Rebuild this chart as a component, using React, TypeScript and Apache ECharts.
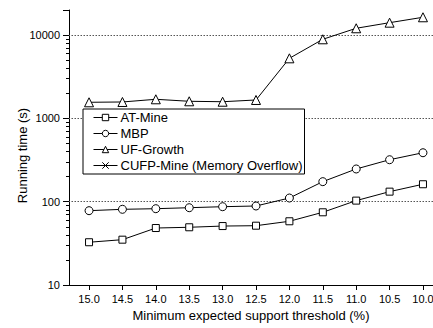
import React, { useEffect, useRef } from "react";
import * as echarts from "echarts";

const thresholds = [15.0, 14.5, 14.0, 13.5, 13.0, 12.5, 12.0, 11.5, 11.0, 10.5, 10.0];
const atMine = [32.6, 35, 48.3, 49.3, 51, 51.5, 58.2, 74.6, 103, 132, 162];
const mbp = [78, 81, 82.4, 84.7, 87.1, 88.8, 110.7, 174, 247, 319, 387];
const ufGrowth = [1560, 1574, 1695, 1604, 1585, 1663, 5260, 8900, 12070, 14090, 16360];
const cufpMine: number[] = [];
const yMajorTicks = [10, 100, 1000, 10000, 20000];
const yLabels = [10, 100, 1000, 10000];
const yMinorTicks = [20, 30, 40, 50, 60, 70, 80, 90, 200, 300, 400, 500, 600, 700, 800, 900, 2000, 3000, 4000, 5000, 6000, 7000, 8000, 9000];
const gridValues = [100, 1000, 10000];

const FONT = "Liberation Sans, Arial, sans-serif";

export default function App() {
  const ref = useRef<HTMLDivElement>(null);
  useEffect(() => {
    if (!ref.current) return;
    const chart = echarts.init(ref.current, null, { renderer: "svg", width: 433, height: 328 });
    const pairs = (vals: number[]) => vals.map((v, i) => [thresholds[i], v]);
    const common = {
      type: "line",
      symbolSize: 8,
      lineStyle: { color: "#000", width: 1 },
      itemStyle: { color: "#fff", borderColor: "#000", borderWidth: 1 },
      emphasis: { disabled: true },
    };
    chart.setOption({
      animation: false,
      textStyle: { fontFamily: FONT },
      grid: { left: 69, right: 0, top: 10, bottom: 43, containLabel: false, outerBoundsMode: "none" },
      legend: {
        orient: "vertical",
        left: 83,
        top: 109,
        itemWidth: 24,
        itemHeight: 8,
        itemGap: 3,
        padding: [2, 2, 2, 10],
        borderColor: "#000",
        borderWidth: 1,
        backgroundColor: "#fff",
        itemStyle: { color: "#fff", borderColor: "#000", borderWidth: 1 },
        lineStyle: { color: "#000", width: 1 },
        textStyle: { fontFamily: FONT, fontSize: 13, color: "#000", padding: [0, 0, 0, -2] },
        data: ["AT-Mine", "MBP", "UF-Growth", "CUFP-Mine (Memory Overflow)"],
      },
      xAxis: {
        type: "value",
        inverse: true,
        min: 9.85,
        max: 15.3,
        name: "Minimum expected support threshold (%)",
        nameLocation: "middle",
        nameGap: 21,
        nameTextStyle: { fontFamily: FONT, fontSize: 13, color: "#000" },
        axisLine: { show: true, lineStyle: { color: "#000", width: 1 } },
        axisTick: { show: true, inside: false, length: 5, lineStyle: { color: "#000" }, customValues: thresholds },
        axisLabel: {
          fontFamily: FONT,
          fontSize: 11,
          color: "#000",
          margin: 8,
          hideOverlap: false,
          showMinLabel: true,
          showMaxLabel: true,
          customValues: thresholds,
          formatter: (v: number) => v.toFixed(1),
        },
        splitLine: { show: false },
      },
      yAxis: [
        {
          type: "log",
          logBase: 10,
          min: 10,
          max: 20000,
          axisLine: { show: true, lineStyle: { color: "#000", width: 1 } },
          axisTick: { show: true, inside: false, length: 6, lineStyle: { color: "#000" }, customValues: yMajorTicks },
          axisLabel: {
            fontFamily: FONT,
            fontSize: 11,
            color: "#000",
            margin: 9,
            customValues: yLabels,
            formatter: (v: number) => String(Math.round(v)),
          },
          splitLine: { show: false },
          minorTick: { show: false },
        },
        {
          type: "log",
          logBase: 10,
          min: 10,
          max: 20000,
          position: "left",
          axisLine: { show: false },
          axisTick: { show: true, inside: false, length: 3, lineStyle: { color: "#000" }, customValues: yMinorTicks },
          axisLabel: { show: false },
          splitLine: { show: false },
        },
      ],
      graphic: [
        {
          type: "text",
          x: 22,
          y: 155.5,
          rotation: Math.PI / 2,
          style: {
            text: "Running time (s)",
            fontFamily: FONT,
            fontSize: 13,
            fill: "#000",
            textAlign: "center",
            textVerticalAlign: "middle",
          },
        },
      ],
      series: [
        {
          ...common,
          name: "AT-Mine",
          symbol: "rect",
          symbolSize: 7,
          data: pairs(atMine),
          z: 3,
          markLine: {
            silent: true,
            symbol: "none",
            label: { show: false },
            lineStyle: { color: "#555", type: [1.5, 1.5], width: 1 },
            data: gridValues.map((v) => ({ yAxis: v })),
            z: 1,
          },
        },
        { ...common, name: "MBP", symbol: "circle", symbolSize: 8, data: pairs(mbp), z: 3 },
        { ...common, name: "UF-Growth", symbol: "triangle", symbolSize: 9, data: pairs(ufGrowth), z: 3 },
        {
          ...common,
          name: "CUFP-Mine (Memory Overflow)",
          symbol: "path://M0,0L10,10M10,0L0,10",
          symbolSize: 8,
          data: cufpMine,
        },
      ],
    });
    return () => chart.dispose();
  }, []);
  return <div ref={ref} style={{ width: 433, height: 328, position: "absolute", left: 0, top: 0 }} />;
}
